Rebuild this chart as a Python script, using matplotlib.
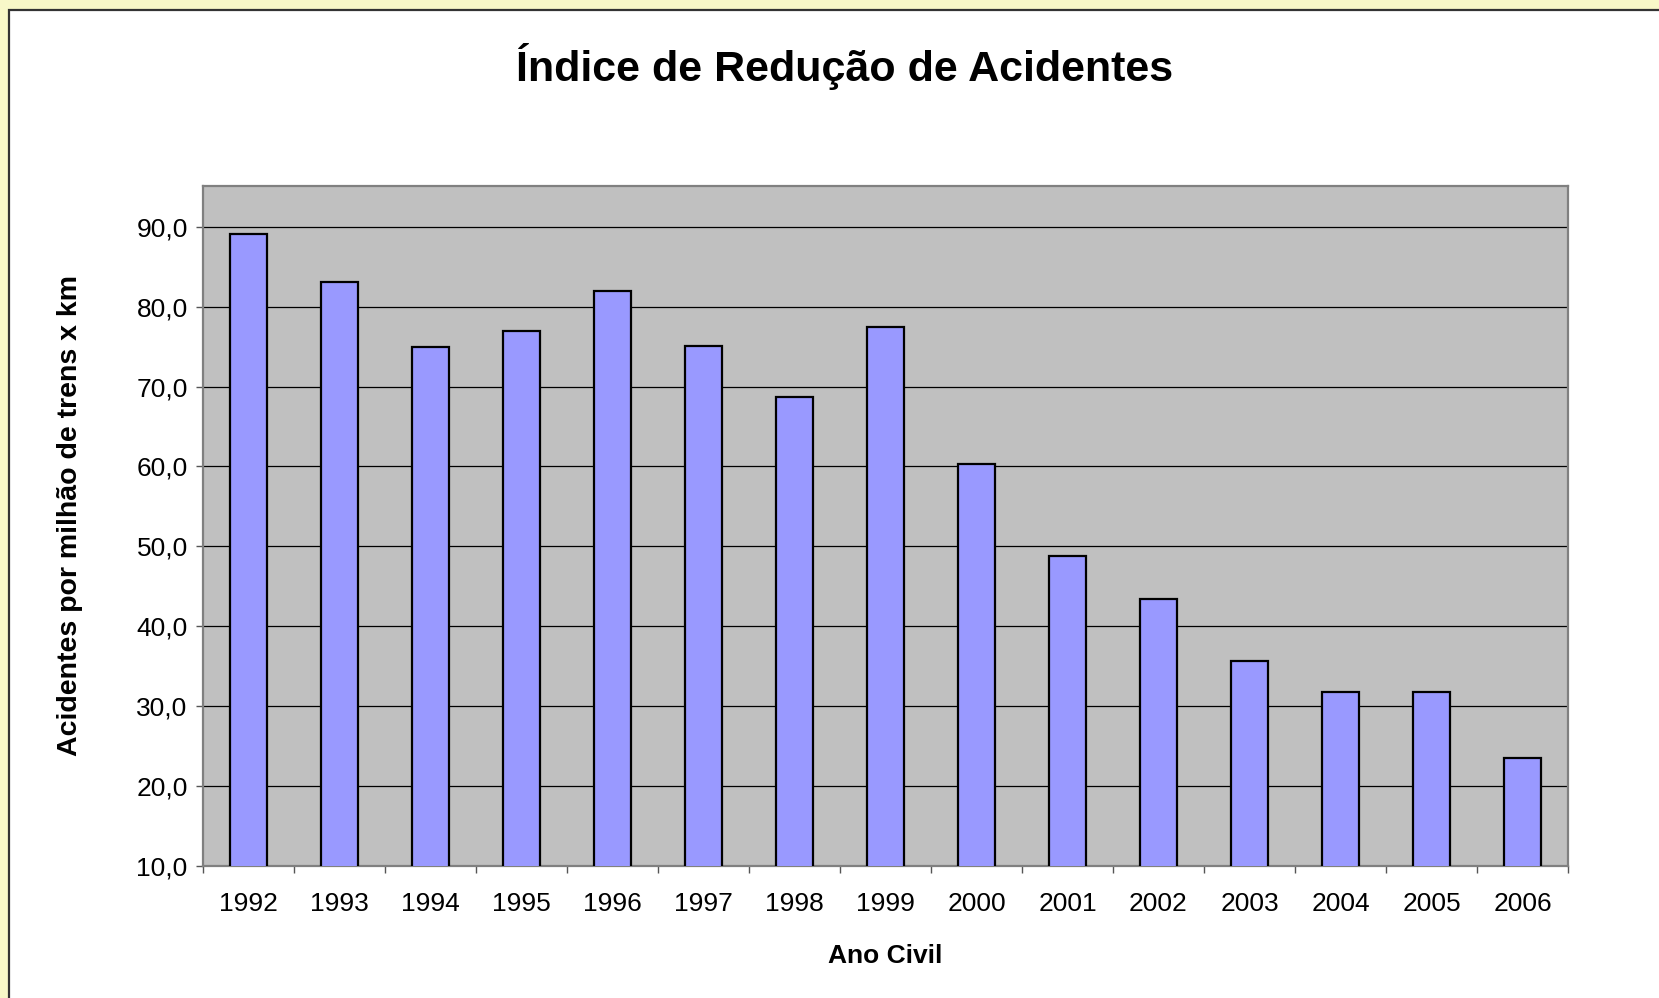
import matplotlib.pyplot as plt
import matplotlib.patches as mpatches
from matplotlib.ticker import FuncFormatter, FixedLocator
import numpy as np

# data
anos = ["1992", "1993", "1994", "1995", "1996", "1997", "1998", "1999",
        "2000", "2001", "2002", "2003", "2004", "2005", "2006"]
indice = [89.1, 83.1, 74.9, 76.9, 82.0, 75.1, 68.7, 77.5,
          60.3, 48.8, 43.4, 35.7, 31.8, 31.8, 23.5]
y_ticks = [10, 20, 30, 40, 50, 60, 70, 80, 90]

plt.rcParams["font.family"] = ["Liberation Sans", "DejaVu Sans"]

W, H = 1659, 998
fig = plt.figure(figsize=(W / 100, H / 100), dpi=100)
fig.patch.set_facecolor("#F8F8C8")

# white chart panel with dark border (bleeds off right/bottom)
panel = mpatches.Rectangle((9 / W, 0 - 0.01), 1.02, 1 - 10 / H + 0.01,
                           transform=fig.transFigure, facecolor="white",
                           edgecolor="#333333", linewidth=1.6, zorder=-1)
fig.patches.append(panel)

ax = fig.add_axes([203 / W, 1 - 866 / H, (1568 - 203) / W, (866 - 186) / H])
ax.set_zorder(2)
ax.set_facecolor("#C0C0C0")

x = np.arange(len(anos))
ax.bar(x, indice, width=0.4, bottom=0, color="#9999FF",
       edgecolor="black", linewidth=1.6, zorder=3)

ax.set_xlim(-0.5, len(anos) - 0.5)
ax.set_ylim(10, 95.1)

ax.yaxis.set_major_locator(FixedLocator(y_ticks))
ax.yaxis.set_major_formatter(FuncFormatter(lambda v, p: f"{v:.1f}".replace(".", ",")))
for v in y_ticks[1:]:
    ax.axhline(v, color="black", linewidth=0.9, zorder=1)

ax.set_xticks(x)
ax.set_xticklabels(anos)
ax.set_xticks(np.arange(-0.5, len(anos)), minor=True)
ax.tick_params(axis="x", which="major", length=0, pad=19, labelsize=19)
ax.tick_params(axis="x", which="minor", length=5, width=1, color="#555555",
               direction="out")
ax.tick_params(axis="y", length=5, width=1, color="#555555", pad=6, labelsize=19)

for s in ["left", "bottom", "top", "right"]:
    ax.spines[s].set_color("#808080")
    ax.spines[s].set_linewidth(1.6)

ax.set_xlabel("Ano Civil", fontsize=19, fontweight="bold", labelpad=20)
ax.set_ylabel("Acidentes por milhão de trens x km", fontsize=20.5,
              fontweight="bold")
ax.yaxis.set_label_coords(-0.088, 0.515)

fig.text(845 / W, 1 - 66 / H, "Índice de Redução de Acidentes",
         ha="center", va="center", fontsize=31, fontweight="bold")

fig.savefig("out.png", dpi=100, facecolor=fig.get_facecolor())
